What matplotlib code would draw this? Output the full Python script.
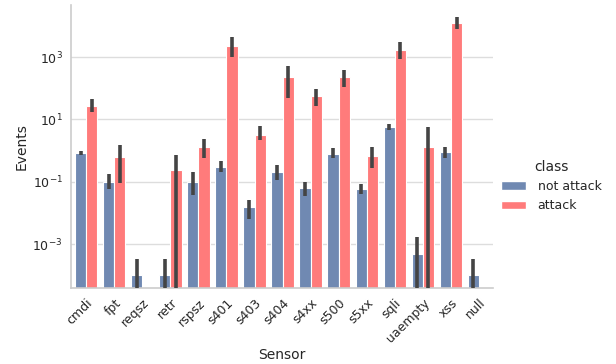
import numpy as np
import matplotlib
matplotlib.use("Agg")
import matplotlib.pyplot as plt
import matplotlib.ticker as ticker
from matplotlib.patches import Patch

sensors = ["cmdi", "fpt", "reqsz", "retr", "rspsz", "s401", "s403", "s404",
           "s4xx", "s500", "s5xx", "sqli", "uaempty", "xss", "null"]

# mean events per class (nan = no bar)
not_attack = [0.83, 0.10, 1e-4, 1e-4, 0.10, 0.30, 0.015, 0.21,
              0.061, 0.79, 0.058, 5.7, 4.9e-4, 0.87, 1e-4]
attack = [28, 0.62, np.nan, 0.24, 1.3, 2350, 3.2, 234,
          55, 222, 0.65, 1750, 1.3, 12600, np.nan]

# confidence intervals (low, high); 1e-7 = runs off bottom of axis
na_lo = [0.70, 0.059, 1e-7, 1e-7, 0.037, 0.20, 0.0066, 0.115,
         0.035, 0.56, 0.042, 4.6, 1e-7, 0.59, 1e-7]
na_hi = [0.95, 0.18, 3.3e-4, 3.3e-4, 0.20, 0.47, 0.026, 0.34,
         0.10, 1.17, 0.085, 7.4, 1.7e-3, 1.3, 3.3e-4]
a_lo = [17, 0.091, np.nan, 1e-7, 0.58, 1000, 2.2, 49,
        28, 110, 0.28, 870, 1e-7, 8000, np.nan]
a_hi = [45, 1.5, np.nan, 0.74, 2.4, 4500, 6.3, 525,
        93, 380, 1.26, 3100, 5.6, 19000, np.nan]

blue = "#7089b2"
red = "#ff7b7b"
grey = "#cccccc"
text_c = "#262626"

fig = plt.figure(figsize=(6.16, 3.64), dpi=100)
ax = fig.add_axes([71/616, 1 - 288/364, 422/616, 283/364])

x = np.arange(len(sensors))
w = 0.4
ax.bar(x - w/2, not_attack, width=w, color=blue, edgecolor="white", linewidth=0.8, zorder=2)
ax.bar(x + w/2, attack, width=w, color=red, edgecolor="white", linewidth=0.8, zorder=2)
ax.vlines(x - w/2, na_lo, na_hi, color="#444444", linewidth=2.6, zorder=3)
ax.vlines(x + w/2, a_lo, a_hi, color="#444444", linewidth=2.6, zorder=3)

ax.set_yscale("log")
ax.set_ylim(3.9e-5, 4.7e4)
ax.set_xlim(-0.54, len(sensors) - 0.5)
ax.yaxis.set_major_locator(ticker.FixedLocator([1e-3, 1e-1, 1e1, 1e3]))
ax.yaxis.set_minor_locator(ticker.NullLocator())

ax.set_xticks(x)
ax.set_xticklabels(sensors, rotation=45, ha="right", rotation_mode="anchor")
ax.tick_params(axis="both", length=0, labelsize=9, colors=text_c, pad=6)

ax.grid(axis="y", color="#dddddd", linewidth=1, zorder=0)
ax.set_axisbelow(True)
for s in ["top", "right"]:
    ax.spines[s].set_visible(False)
for s in ["left", "bottom"]:
    ax.spines[s].set_color(grey)
    ax.spines[s].set_linewidth(1.2)

ax.set_xlabel("Sensor", fontsize=10, color=text_c, labelpad=2)
ax.set_ylabel("Events", fontsize=10, color=text_c, labelpad=3)

handles = [Patch(facecolor=blue, edgecolor="white"), Patch(facecolor=red, edgecolor="white")]
leg = fig.legend(handles, ["not attack", "attack"], title="class", frameon=False,
                 loc="center left", bbox_to_anchor=(490/616, 1 - 186/364),
                 fontsize=9, title_fontsize=10, handletextpad=0.9,
                 handlelength=2.0, labelspacing=0.5)
for t in leg.get_texts():
    t.set_color(text_c)
leg.get_title().set_color(text_c)

fig.savefig("out.png", dpi=100)
